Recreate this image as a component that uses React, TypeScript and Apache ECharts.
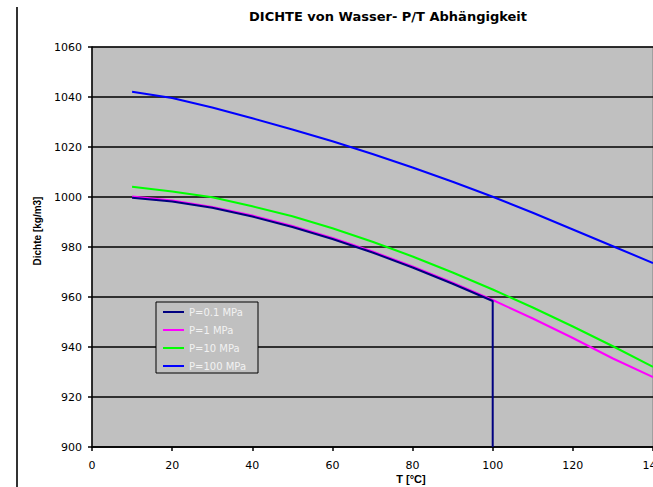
import React, { useEffect, useRef } from "react";
import * as echarts from "echarts";

const temps = [10, 20, 30, 40, 50, 60, 70, 80, 90, 100, 110, 120, 130, 140];
const rho01 = [999.7, 998.2, 995.7, 992.2, 988.0, 983.2, 977.8, 971.8, 965.3, 958.4];
const rho1 = [1000.2, 998.6, 996.0, 992.6, 988.4, 983.6, 978.2, 972.2, 965.7, 958.8, 951.4, 943.6, 935.4, 928.0];
const rho10 = [1004.1, 1002.2, 999.9, 996.3, 992.3, 987.5, 982.1, 976.2, 969.8, 963.0, 955.8, 948.2, 940.3, 932.1];
const rho100 = [1042.1, 1039.6, 1035.8, 1031.5, 1027.0, 1022.3, 1017.2, 1011.8, 1006.1, 1000.1, 993.7, 987.0, 980.3, 973.6];
const seriesNames = ["P=0.1 MPa", "P=1 MPa", "P=10 MPa", "P=100 MPa"];
const seriesColors = ["#000080", "#FF00FF", "#00FF00", "#0000FF"];
const boilingT = 100;
const yMin = 900;

const zip = (vals: number[]) => vals.map((v, i) => [temps[i], v]);

export default function App() {
  const ref = useRef<HTMLDivElement>(null);
  useEffect(() => {
    if (!ref.current) return;
    const chart = echarts.init(ref.current, undefined, { renderer: "svg" });
    const navy = zip(rho01).concat([[boilingT, yMin]]);
    const datasets = [navy, zip(rho1), zip(rho10), zip(rho100)];
    chart.setOption({
      animation: false,
      backgroundColor: "#ffffff",
      grid: {
        left: 92,
        top: 47,
        right: 0,
        bottom: 40,
        containLabel: false,
        outerBoundsMode: "none",
        show: true,
        backgroundColor: "#C0C0C0",
        borderColor: "#808080",
        borderWidth: 1,
      },
      xAxis: {
        type: "value",
        min: 0,
        max: 140,
        interval: 20,
        axisLine: { show: true, lineStyle: { color: "#000", width: 1.5 } },
        axisTick: { show: true, length: 4, lineStyle: { color: "#000", width: 1.5 } },
        axisLabel: { fontFamily: "DejaVu Sans", fontSize: 11, color: "#000", margin: 13, formatter: (v: number) => String(v) },
        splitLine: { show: false },
      },
      yAxis: {
        type: "value",
        min: 900,
        max: 1060,
        interval: 20,
        axisLine: { show: true, lineStyle: { color: "#000", width: 1.5 } },
        axisTick: { show: true, length: 4, lineStyle: { color: "#000", width: 1.5 } },
        axisLabel: { fontFamily: "DejaVu Sans", fontSize: 11, color: "#000", margin: 10, formatter: (v: number) => String(v) },
        splitLine: { show: true, lineStyle: { color: "#000", width: 1.5 } },
      },
      legend: {
        orient: "vertical",
        left: 156,
        top: 302,
        data: seriesNames,
        backgroundColor: "#C0C0C0",
        borderColor: "#000",
        borderWidth: 1,
        padding: [5, 12, 2, 6],
        itemWidth: 21,
        itemHeight: 12,
        itemGap: 8,
        itemStyle: { opacity: 0 },
        lineStyle: { width: 2 },
        textStyle: { color: "#f2f2f2", fontFamily: "DejaVu Sans", fontSize: 10 },
      },
      graphic: [
        {
          type: "line",
          shape: { x1: 17, y1: 7, x2: 17, y2: 487 },
          style: { stroke: "#333", lineWidth: 2 },
        },
        {
          type: "text",
          x: 388,
          y: 16,
          style: {
            text: "DICHTE von Wasser- P/T Abhängigkeit",
            fontFamily: "DejaVu Sans",
            fontWeight: "bold",
            fontSize: 13,
            fill: "#000",
            align: "center",
            verticalAlign: "middle",
          },
        },
        {
          type: "text",
          x: 411,
          y: 479,
          style: {
            text: "T [°C]",
            fontFamily: "Liberation Sans",
            fontWeight: "bold",
            fontSize: 11,
            fill: "#000",
            align: "center",
            verticalAlign: "middle",
          },
        },
        {
          type: "text",
          x: 37,
          y: 231,
          rotation: Math.PI / 2,
          style: {
            text: "Dichte [kg/m3]",
            fontFamily: "Liberation Sans",
            fontWeight: "bold",
            fontSize: 10,
            fill: "#000",
            align: "center",
            verticalAlign: "middle",
          },
        },
      ],
      series: datasets.map((d, i) => ({
        name: seriesNames[i],
        type: "line",
        data: d,
        symbol: "none",
        smooth: false,
        color: seriesColors[i],
        lineStyle: { color: seriesColors[i], width: 2 },
        z: i === 0 ? 5 : 3,
      })),
    });
    return () => chart.dispose();
  }, []);
  return (
    <div
      ref={ref}
      style={{ position: "fixed", left: 0, top: 0, width: 653, height: 487 }}
    />
  );
}
